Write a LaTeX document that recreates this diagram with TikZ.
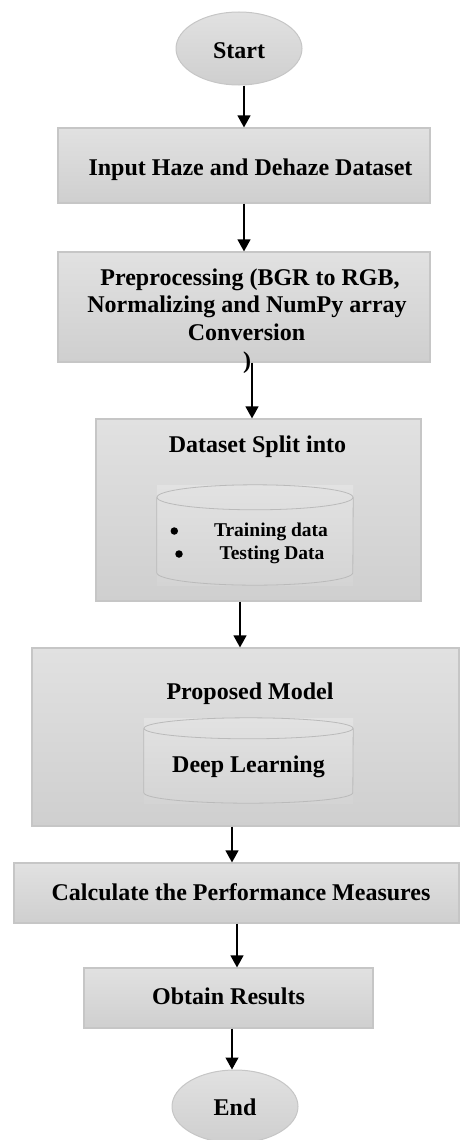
\documentclass[tikz,border=0pt]{standalone}
\usepackage{fontspec}
\setmainfont{Liberation Serif}
\usetikzlibrary{arrows.meta,shapes.geometric}

\definecolor{boxtop}{RGB}{225,225,225}
\definecolor{boxbot}{RGB}{207,207,207}
\definecolor{boxline}{RGB}{198,198,198}
\definecolor{cyltop}{RGB}{226,226,226}
\definecolor{cylbot}{RGB}{212,212,212}
\definecolor{cylline}{RGB}{186,186,186}

\begin{document}
\begin{tikzpicture}[x=1pt,y=-1pt,
  stepbox/.style={rectangle, draw=boxline, line width=1.2pt,
    top color=boxtop, bottom color=boxbot, inner sep=0pt},
  terminal/.style={ellipse, draw=boxline, line width=1pt,
    top color=boxtop, bottom color=boxbot, inner sep=0pt,
    minimum width=126pt, minimum height=73pt},
  txt/.style={font=\fontsize{24}{28}\selectfont\bfseries, anchor=base, inner sep=0pt},
  smalltxt/.style={font=\fontsize{19.5}{23}\selectfont\bfseries, anchor=base, inner sep=0pt},
  dot/.style={circle, fill=black, inner sep=0pt, minimum size=7.5pt},
  arr/.style={line width=1.2pt, -{Triangle[width=13pt,length=12pt]}},
  cylarea/.style={rectangle, inner sep=0pt, top color=cyltop, bottom color=cylbot},
  cyledge/.style={draw=cylline, line width=0.8pt}
]
\useasboundingbox (0,0) rectangle (460,1140);

% terminals and process boxes
\node[terminal] (start) at (239,48.5) {};
\node[stepbox, minimum width=372pt, minimum height=75pt]  (b1) at (244,165.5) {};
\node[stepbox, minimum width=372pt, minimum height=110pt] (b2) at (244,307) {};
\node[stepbox, minimum width=325pt, minimum height=182pt] (b3) at (258.5,510) {};
\node[stepbox, minimum width=427pt, minimum height=178pt] (b4) at (245.5,737) {};
\node[stepbox, minimum width=445pt, minimum height=60pt]  (b5) at (236.5,893) {};
\node[stepbox, minimum width=289pt, minimum height=60pt]  (b6) at (228.5,998) {};
\node[terminal] (end) at (235,1106.5) {};

% storage cylinders inside the split and model boxes
\node[cylarea, minimum width=196pt, minimum height=100pt] (c1) at (255,535) {};
\node[cylarea, minimum width=209pt, minimum height=85pt]  (c2) at (248.5,760.5) {};

\draw[cyledge] ([yshift=-12.5pt]c1.north) ellipse[x radius=98, y radius=12.5];
\draw[cyledge] ([yshift=-12.5pt]c1.north west) -- ([yshift=12.5pt]c1.south west)
  arc[start angle=180, end angle=0, x radius=98, y radius=12.5]
  -- ([yshift=-12.5pt]c1.north east);

\draw[cyledge] ([yshift=-10.5pt]c2.north) ellipse[x radius=104.5, y radius=10.5];
\draw[cyledge] ([yshift=-10.5pt]c2.north west) -- ([yshift=10.5pt]c2.south west)
  arc[start angle=180, end angle=0, x radius=104.5, y radius=10.5]
  -- ([yshift=-10.5pt]c2.north east);

% texts
\node[txt] (tstart) at (239,59) {Start};
\node[txt] (t1) at (250.5,175) {Input Haze and Dehaze Dataset};
\node[txt] (t2a) at (250,285) {Preprocessing (BGR to RGB,};
\node[txt] (t2b) at (247,312.5) {Normalizing and NumPy array};
\node[txt] (t2c) at (246.5,340.5) {Conversion};
\node[txt] (t2d) at (247,368) {)};
\node[txt] (t3) at (257.5,452) {Dataset Split into};
\node[dot] (bul1) at (174.3,531) {};
\node[dot] (bul2) at (179,554) {};
\node[smalltxt] (tr) at (271,536) {Training data};
\node[smalltxt] (te) at (272,559) {Testing Data};
\node[txt] (t4) at (250,699) {Proposed Model};
\node[txt] (t4b) at (248.5,772) {Deep Learning};
\node[txt] (t5) at (241,900) {Calculate the Performance Measures};
\node[txt] (t6) at (228.5,1004) {Obtain Results};
\node[txt] (tend) at (235,1115) {End};

% connector columns
\coordinate (xa) at (244,0);
\coordinate (xb) at (252,0);
\coordinate (xc) at (240,0);
\coordinate (xd) at (232,0);
\coordinate (xe) at (237,0);

\draw[arr] (start.south -| xa) -- (b1.north -| xa);
\draw[arr] (b1.south -| xa) -- (b2.north -| xa);
\draw[arr] (b2.south -| xb) -- (b3.north -| xb);
\draw[arr] (b3.south -| xc) -- (b4.north -| xc);
\draw[arr] (b4.south -| xd) -- (b5.north -| xd);
\draw[arr] (b5.south -| xe) -- (b6.north -| xe);
\draw[arr] (b6.south -| xd) -- (end.north -| xd);
\end{tikzpicture}
\end{document}
